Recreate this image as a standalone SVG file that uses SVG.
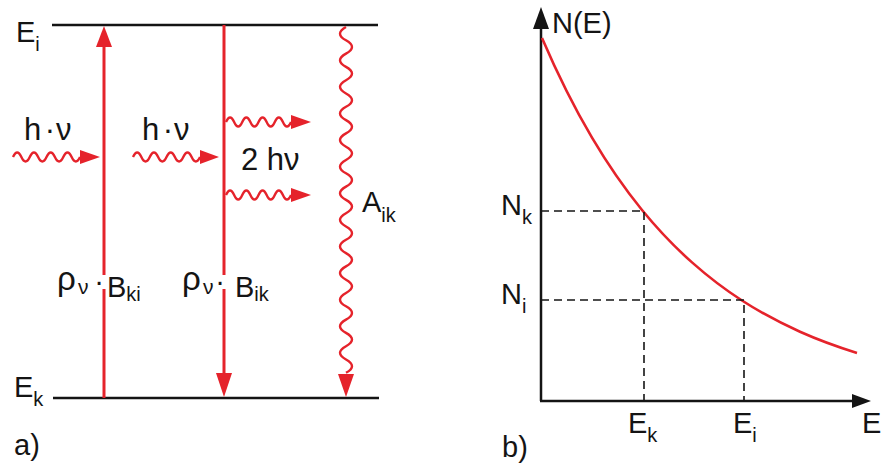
<svg xmlns="http://www.w3.org/2000/svg" width="882" height="466" viewBox="0 0 882 466">
<style>
  text { font-family: "Liberation Sans", Arial, sans-serif; font-size: 29px; fill: #141414; }
  .sub { font-size: 20px; }
  .nu { font-size: 21px; }
  .big { font-size: 31px; }
  .rho { font-size: 33px; }
  .lvl { stroke: #141414; stroke-width: 2.5; fill: none; }
  .ax { stroke: #141414; stroke-width: 2.5; fill: none; }
  .red { stroke: #e5232b; stroke-width: 3; fill: none; }
  .wave { stroke: #e5232b; stroke-width: 2.4; fill: none; }
  .rh { fill: #e5232b; }
  .kh { fill: #141414; }
  .dash { stroke: #141414; stroke-width: 1.6; stroke-dasharray: 8 5; fill: none; }
  .curve { stroke: #e5232b; stroke-width: 2.6; fill: none; }
</style>
<rect width="882" height="466" fill="#ffffff"/>

<!-- Panel a) -->
<g id="level-Ei">
  <line class="lvl" x1="52" y1="25" x2="378" y2="25"/>
  <text x="16" y="42">E<tspan class="sub" dy="9">i</tspan></text>
</g>
<g id="level-Ek">
  <line class="lvl" x1="53" y1="398" x2="379" y2="398"/>
  <text x="14" y="397">E<tspan class="sub" dy="9">k</tspan></text>
</g>

<g id="connectors">
  <g id="absorption">
    <line class="red" x1="104" y1="398" x2="104" y2="289"/>
    <line class="red" x1="104" y1="275" x2="104" y2="44"/>
    <polygon class="rh" points="96,47 112,47 104,26"/>
  </g>
  <g id="stimulated-emission">
    <line class="red" x1="224" y1="25" x2="224" y2="275"/>
    <line class="red" x1="224" y1="289" x2="224" y2="376"/>
    <polygon class="rh" points="216,373 232,373 224,397"/>
  </g>
  <g id="spontaneous-emission">
    <path class="wave" d="M346,27 q-12,6.65 0,13.3 t0,13.3 t0,13.3 t0,13.3 t0,13.3 t0,13.3 t0,13.3 t0,13.3 t0,13.3 t0,13.3 t0,13.3 t0,13.3 t0,13.3 t0,13.3 t0,13.3 t0,13.3 t0,13.3 t0,13.3 t0,13.3 t0,13.3 t0,13.3 t0,13.3 t0,13.3 t0,13.3 t0,13.3 t0,13.3"/>
    <polygon class="rh" points="338,374 354,374 346,397"/>
  </g>
  <g id="photon-in-1">
    <path class="wave" d="M13,157 q4.19,-9 8.38,0 t8.38,0 t8.38,0 t8.38,0 t8.38,0 t8.38,0 t8.38,0 t8.38,0"/>
    <polygon class="rh" points="80,150 80,164 100,157"/>
  </g>
  <g id="photon-in-2">
    <path class="wave" d="M133,157 q4.19,-9 8.38,0 t8.38,0 t8.38,0 t8.38,0 t8.38,0 t8.38,0 t8.38,0 t8.38,0"/>
    <polygon class="rh" points="200,150 200,164 219,157"/>
  </g>
  <g id="photon-out-1">
    <path class="wave" d="M226,122 q4.06,-9 8.13,0 t8.13,0 t8.13,0 t8.13,0 t8.13,0 t8.13,0 t8.13,0 t8.13,0"/>
    <polygon class="rh" points="291,115 291,129 311,122"/>
  </g>
  <g id="photon-out-2">
    <path class="wave" d="M226,195 q4.06,-9 8.13,0 t8.13,0 t8.13,0 t8.13,0 t8.13,0 t8.13,0 t8.13,0 t8.13,0"/>
    <polygon class="rh" points="291,188 291,202 311,195"/>
  </g>
</g>

<g id="label-hv-1">
  <text class="big" x="24" y="140">h</text>
  <text class="big" x="50" y="140" text-anchor="middle">·</text>
  <text class="big" x="56" y="140">ν</text>
</g>
<g id="label-hv-2">
  <text class="big" x="142" y="140">h</text>
  <text class="big" x="168" y="140" text-anchor="middle">·</text>
  <text class="big" x="174" y="140">ν</text>
</g>
<g id="label-2hv">
  <text class="big" x="241" y="170">2 hν</text>
</g>
<g id="label-Bki">
  <text class="rho" x="57" y="290">ρ</text>
  <text class="nu" x="78" y="294">ν</text>
  <text x="99" y="291" text-anchor="middle">·</text>
  <text x="107" y="297">B<tspan class="sub" dy="4">ki</tspan></text>
</g>
<g id="label-Bik">
  <text class="rho" x="182" y="290">ρ</text>
  <text class="nu" x="203" y="294">ν</text>
  <text x="220" y="291" text-anchor="middle">·</text>
  <text x="235" y="297">B<tspan class="sub" dy="4">ik</tspan></text>
</g>
<g id="label-Aik">
  <text x="362" y="212">A<tspan class="sub" dy="10">ik</tspan></text>
</g>
<g id="label-a">
  <text x="14" y="455">a)</text>
</g>

<!-- Panel b) -->
<g id="axes">
  <line class="ax" x1="541" y1="401" x2="541" y2="26"/>
  <polygon class="kh" points="533,29 549,29 541,7"/>
  <line class="ax" x1="540" y1="401" x2="855" y2="401"/>
  <polygon class="kh" points="852,394 852,408 871,401"/>
  <text x="862" y="433">E</text>
</g>
<g id="axis-label-N">
  <text x="552" y="33">N(E)</text>
</g>
<g id="curve">
  <path class="curve" d="M542,38 C558.67,76.8 575.33,109.5 592,137.7 C608.67,165.9 625.33,189.6 642,210 C658.67,230.4 675.33,247.6 692,262.4 C708.67,277.2 725.33,289.8 742,300.5 C761.33,313 780.67,323.1 800,331.7 C819,340.2 838,347 857,352.9"/>
</g>
<g id="guide-k">
  <path class="dash" d="M541,211 H644 V401"/>
  <text x="501" y="215">N<tspan class="sub" dy="9">k</tspan></text>
  <text x="628" y="433">E<tspan class="sub" dy="9">k</tspan></text>
</g>
<g id="guide-i">
  <path class="dash" d="M541,300 H744 V401"/>
  <text x="501" y="304">N<tspan class="sub" dy="9">i</tspan></text>
  <text x="733" y="433">E<tspan class="sub" dy="9">i</tspan></text>
</g>
<g id="label-b">
  <text x="502" y="457">b)</text>
</g>
</svg>
